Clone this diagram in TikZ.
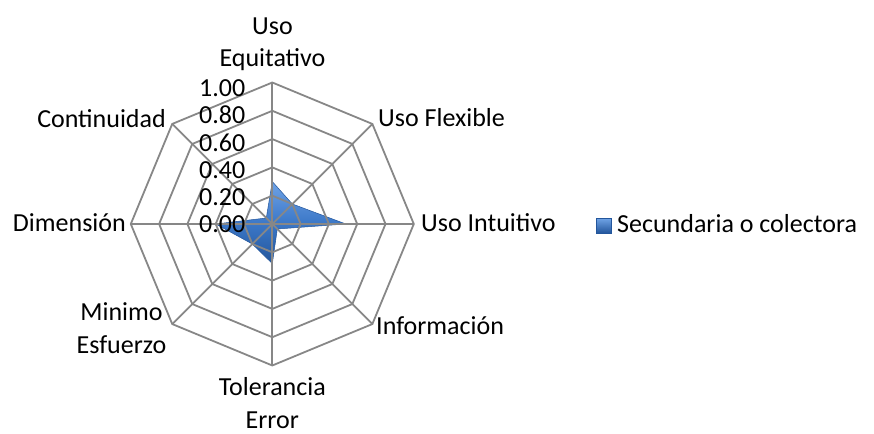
\documentclass[tikz,border=0pt]{standalone}
\usepackage{fontspec}
\setmainfont{Carlito}
\usetikzlibrary{calc}
\definecolor{gridgray}{HTML}{878787}
\definecolor{blueA}{HTML}{6FA3E6}
\definecolor{blueB}{HTML}{3C78C8}
\definecolor{blueC}{HTML}{23569C}
\begin{document}
\begin{tikzpicture}[x=1pt,y=1pt,
  lbl/.style={font=\fontsize{26}{32.3}\selectfont, inner sep=0pt, text=black},
  gridline/.style={draw=gridgray, line width=1.8pt, line join=miter},
  tick/.style={lbl, anchor=base east},
  series/.style={top color=blueA, bottom color=blueC, middle color=blueB, draw=blueC, line width=0.5pt, line join=miter}]
\useasboundingbox (0,0) rectangle (874,433);
\coordinate (C) at (272.3,209);
\def\R{141.5}
\foreach \a [count=\i from 0] in {90,45,0,-45,-90,-135,180,135}
  {\coordinate (a\i) at ($(C)+(\a:\R)$);}
\foreach \a/\v [count=\i from 0] in {90/0.30,45/0.20,0/0.52,-45/0.05,-90/0.28,-135/0.20,180/0.40,135/0.06}
  {\coordinate (p\i) at ($(C)+(\a:{\v*\R})$);}
% data series
\path[series] (p0) -- (p1) -- (p2) -- (p3) -- (p4) -- (p5) -- (p6) -- (p7) -- cycle;
% rings
\foreach \k in {1,...,5}
  {\draw[gridline] ($(C)!\k/5!(a0)$) -- ($(C)!\k/5!(a1)$) -- ($(C)!\k/5!(a2)$) -- ($(C)!\k/5!(a3)$)
     -- ($(C)!\k/5!(a4)$) -- ($(C)!\k/5!(a5)$) -- ($(C)!\k/5!(a6)$) -- ($(C)!\k/5!(a7)$) -- cycle;}
% spokes
\foreach \i in {0,...,7} {\draw[gridline] (C) -- (a\i);}
% tick labels
\foreach \k/\t in {0/0.00,1/0.20,2/0.40,3/0.60,4/0.80,5/1.00}
  {\node[tick] (t\k) at (245.5,{200+\k*27.26}) {\t};}
% axis labels (anchor base = baseline of last line)
\node[lbl, align=center, anchor=base] (lE) at (272.5,366.3) {Uso\\Equitativo};
\node[lbl, anchor=base west] (lF) at (378,306.3) {Uso Flexible};
\node[lbl, anchor=base west] (lI) at (421,201.3) {Uso Intuitivo};
\node[lbl, anchor=base west] (lInf) at (376,98) {Información};
\node[lbl, align=center, anchor=base] (lT) at (272.3,5) {Tolerancia\\Error};
\node[lbl, align=center, anchor=base] (lM) at (121.5,79.7) {Minimo\\Esfuerzo};
\node[lbl, anchor=base east] (lD) at (126,201.3) {Dimensión};
\node[lbl, anchor=base east] (lC) at (166,305.7) {Continuidad};
% legend
\node[anchor=south west, minimum size=14.7pt, inner sep=0pt, top color=blueA, bottom color=blueC, draw=blueC, line width=0.6pt] (legmark) at (596,199.7) {};
\node[lbl, anchor=base west] (legtxt) at (617,200) {Secundaria o colectora};
\end{tikzpicture}
\end{document}
